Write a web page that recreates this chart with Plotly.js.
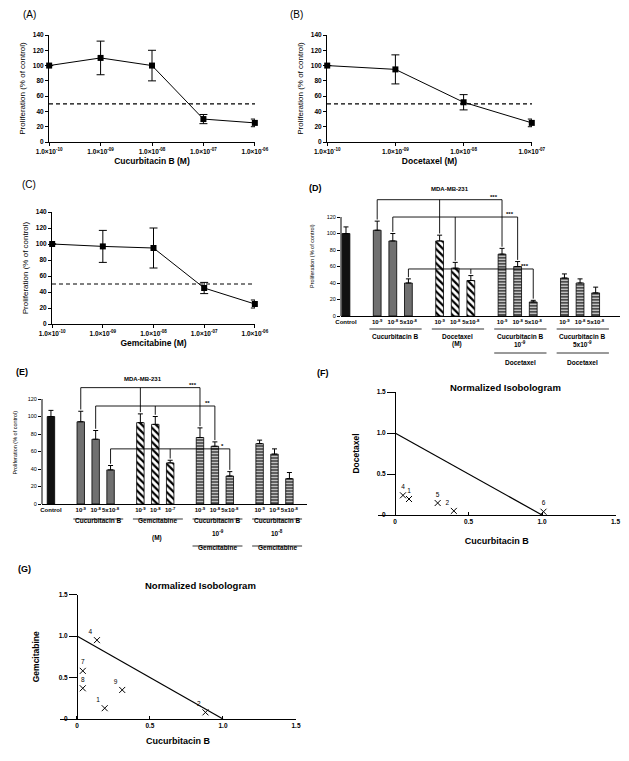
<!DOCTYPE html>
<html lang="en">
<head>
<meta charset="UTF-8">
<title>Cucurbitacin B combinations</title>
<script src="https://cdn.plot.ly/plotly-3.0.1.min.js"></script>
<style>
  body { margin: 0; background: white; }
  #fig { width: 629px; height: 761px; }
</style>
</head>
<body>
<div id="fig"></div>
<script>
// ---- (A)-(C) dose response ----
var doseA = [1e-10, 1e-9, 1e-8, 1e-7, 1e-6];
var profA = [100, 110, 100, 30, 25];
var errA  = [0, 22, 20, 6, 5];

var doseB = [1e-10, 1e-9, 1e-8, 1e-7];
var profB = [100, 95, 52, 25];
var errB  = [0, 19, 10, 5];

var doseC = [1e-10, 1e-9, 1e-8, 1e-7, 1e-6];
var profC = [100, 97, 95, 45, 25];
var errC  = [0, 20, 25, 7, 5];

var doseTickText = ['1.0×10<sup>-10</sup>', '1.0×10<sup>-09</sup>', '1.0×10<sup>-08</sup>',
                    '1.0×10<sup>-07</sup>', '1.0×10<sup>-06</sup>'];

// ---- (D) cucurbitacin B + docetaxel bars ----
var dTickText = ['Control',
  '10<sup>-9</sup>', '10<sup>-8</sup>', '5x10<sup>-8</sup>',
  '10<sup>-9</sup>', '10<sup>-8</sup>', '5x10<sup>-8</sup>',
  '10<sup>-9</sup>', '10<sup>-8</sup>', '5x10<sup>-8</sup>',
  '10<sup>-9</sup>', '10<sup>-8</sup>', '5x10<sup>-8</sup>'];
var dValues = [100, 104, 91, 40, 91, 58, 43, 75, 60, 17, 46, 40, 28];
var dErrors = [8, 11, 9, 5, 7, 7, 6, 7, 6, 2, 5, 5, 7];
var dGroups = ['Cucurbitacin B', 'Docetaxel', 'Cucurbitacin B', 'Cucurbitacin B'];
var dFixedDose = ['10<sup>-9</sup>', '5x10<sup>-9</sup>'];
var dFixedDrug = 'Docetaxel';
var dSigBars  = [[1, 4, 7], [2, 5, 8], [3, 6, 9]];
var dSigLevel = [141, 120, 57];
var dSigStars = ['***', '***', '***'];

// ---- (E) cucurbitacin B + gemcitabine bars ----
var eTickText = ['Control',
  '10<sup>-9</sup>', '10<sup>-8</sup>', '5x10<sup>-8</sup>',
  '10<sup>-9</sup>', '10<sup>-8</sup>', '10<sup>-7</sup>',
  '10<sup>-9</sup>', '10<sup>-8</sup>', '5x10<sup>-8</sup>',
  '10<sup>-9</sup>', '10<sup>-8</sup>', '5x10<sup>-8</sup>'];
var eValues = [100, 94, 74, 39, 93, 91, 47, 76, 66, 32, 69, 57, 29];
var eErrors = [7, 12, 10, 5, 10, 9, 3, 11, 5, 5, 4, 6, 7];
var eGroups = ['Cucurbitacin B', 'Gemcitabine', 'Cucurbitacin B', 'Cucurbitacin B'];
var eFixedDose = ['10<sup>-9</sup>', '10<sup>-8</sup>'];
var eFixedDrug = 'Gemcitabine';
var eSigBars  = [[1, 4, 7], [2, 5, 8], [3, 6, 9]];
var eSigLevel = [133, 112, 63];
var eSigStars = ['***', '**', '*'];

// ---- (F), (G) isobolograms ----
var isoX = [0, 1];
var isoY = [1, 0];
var fLabels = ['1', '2', '4', '5', '6'];
var fCuB    = [0.095, 0.40, 0.054, 0.29, 1.01];
var fDoc    = [0.195, 0.05, 0.24, 0.146, 0.04];
var gLabels = ['1', '2', '4', '7', '8', '9'];
var gCuB    = [0.19, 0.88, 0.137, 0.04, 0.04, 0.31];
var gGem    = [0.13, 0.08, 0.95, 0.58, 0.37, 0.35];

// ------------------------------------------------------------
var W = 629, H = 761;
function px(x) { return x / W; }
function py(y) { return 1 - y / H; }

var FONT = 'Liberation Sans, Arial, sans-serif';
function bold(s) { return {family: FONT, size: s, color: 'black', weight: 'bold'}; }
function plain(s) { return {family: FONT, size: s, color: 'black'}; }

// bar position: control, then groups of three separated by one gap
function barPos(i) { return i === 0 ? 0 : i + 1 + Math.floor((i - 1) / 3); }
function kindOf(i) { return i === 0 ? 'ctrl' : i <= 3 ? 'single' : i <= 6 ? 'drug' : 'combo'; }
var barStyle = {
  ctrl:   {color: '#111111', pattern: {shape: ''}},
  single: {color: '#707070', pattern: {shape: ''}},
  drug:   {color: 'white', pattern: {shape: '\\', size: 5, solidity: 0.45, fgcolor: 'black', bgcolor: 'white', fillmode: 'replace'}},
  combo:  {color: 'white', pattern: {shape: '-', size: 3, solidity: 0.5, fgcolor: 'black', bgcolor: 'white', fillmode: 'replace'}}
};

function doseTrace(x, y, err, xa, ya) {
  return {
    type: 'scatter', mode: 'lines+markers', x: x, y: y, xaxis: xa, yaxis: ya,
    line: {color: 'black', width: 1},
    marker: {symbol: 'square', size: 6, color: 'black'},
    error_y: {type: 'data', array: err, visible: true, color: 'black', thickness: 1, width: 4},
    cliponaxis: false, showlegend: false, hoverinfo: 'skip'
  };
}

// one bar trace per fill style
function barTraces(vals, errs, xa, ya) {
  return Object.keys(barStyle).map(function (kind) {
    var idx = vals.map(function (v, i) { return i; })
                  .filter(function (i) { return kindOf(i) === kind; });
    var st = barStyle[kind];
    return {
      type: 'bar', xaxis: xa, yaxis: ya, width: 0.5,
      x: idx.map(barPos), y: idx.map(function (i) { return vals[i]; }),
      marker: {color: st.color, line: {color: 'black', width: 0.8}, pattern: st.pattern},
      error_y: {type: 'data', symmetric: false,
                array: idx.map(function (i) { return errs[i]; }),
                arrayminus: idx.map(function () { return 0; }),
                color: 'black', thickness: 1, width: 2.5},
      showlegend: false, hoverinfo: 'skip'
    };
  });
}

function isoTraces(cx, cy, labels, leftLabels, xa, ya) {
  return [
    {type: 'scatter', mode: 'lines', x: isoX, y: isoY, xaxis: xa, yaxis: ya,
     line: {color: 'black', width: 1.2}, showlegend: false, hoverinfo: 'skip'},
    {type: 'scatter', mode: 'markers+text', x: cx, y: cy, xaxis: xa, yaxis: ya,
     text: labels,
     textposition: labels.map(function (l) { return leftLabels.indexOf(l) >= 0 ? 'top left' : 'top center'; }),
     textfont: plain(6.5),
     marker: {symbol: 'x-thin', size: 6, color: 'black', line: {color: 'black', width: 1}},
     cliponaxis: false, showlegend: false, hoverinfo: 'skip'}
  ];
}

var data = [
  doseTrace(doseA, profA, errA, 'x', 'y'),
  doseTrace(doseB, profB, errB, 'x2', 'y2'),
  doseTrace(doseC, profC, errC, 'x3', 'y3')
].concat(barTraces(dValues, dErrors, 'x4', 'y4'))
 .concat(barTraces(eValues, eErrors, 'x5', 'y5'))
 .concat(isoTraces(fCuB, fDoc, fLabels, ['2'], 'x6', 'y6'))
 .concat(isoTraces(gCuB, gGem, gLabels, ['1', '2', '4', '9'], 'x7', 'y7'));

function doseX(dom, anchor, doses, title) {
  return {
    domain: dom, anchor: anchor, type: 'log',
    // tiny padding so the end markers are not culled
    range: [Math.log10(doses[0]) - 0.003, Math.log10(doses[doses.length - 1]) + 0.003],
    tickvals: doses, ticktext: doseTickText.slice(0, doses.length),
    ticks: 'outside', ticklen: 3, tickwidth: 1, tickcolor: 'black', tickangle: 0,
    showline: true, linecolor: 'black', linewidth: 1, showgrid: false, zeroline: false,
    tickfont: bold(6.5),
    title: {text: title, font: bold(8.5), standoff: 4}
  };
}
function doseY(dom, anchor) {
  return {
    domain: dom, anchor: anchor, range: [0, 140],
    tickvals: [0, 20, 40, 60, 80, 100, 120, 140],
    ticks: 'outside', ticklen: 3, tickwidth: 1, tickcolor: 'black',
    showline: true, linecolor: 'black', linewidth: 1, showgrid: false, zeroline: false,
    tickfont: bold(6.5),
    title: {text: 'Proliferation (% of control)', font: plain(8), standoff: 6}
  };
}
function barX(dom, anchor, range, ticktext) {
  return {
    domain: dom, anchor: anchor, range: range,
    tickvals: ticktext.map(function (t, i) { return barPos(i); }), ticktext: ticktext,
    ticks: '', tickangle: 0, tickfont: bold(6),
    showline: true, linecolor: 'black', linewidth: 1, showgrid: false, zeroline: false
  };
}
function barY(dom, anchor, top, standoff) {
  return {
    domain: dom, anchor: anchor, range: [0, top],
    tickvals: [0, 20, 40, 60, 80, 100, 120],
    ticks: 'outside', ticklen: 3, tickwidth: 1, tickcolor: 'black',
    showline: false, showgrid: false, zeroline: false,
    tickfont: plain(5.5),
    title: {text: 'Proliferation (% of control)', font: plain(5.5), standoff: standoff}
  };
}
function isoXAxis(dom, anchor, standoff) {
  return {
    domain: dom, anchor: anchor, range: [-0.116, 1.5],
    tickvals: [0, 0.5, 1, 1.5], ticktext: ['0', '0.5', '1.0', '1.5'],
    ticks: 'inside', ticklen: 3, tickcolor: 'black', tickangle: 0,
    showline: true, linecolor: 'black', linewidth: 1.2, showgrid: false, zeroline: false,
    tickfont: bold(6.5),
    title: {text: 'Cucurbitacin B', font: bold(9), standoff: standoff}
  };
}
function isoYAxis(dom, position, title, standoff) {
  return {
    domain: dom, anchor: 'free', position: position, range: [0, 1.5],
    tickvals: [0, 0.5, 1, 1.5], ticktext: ['0', '0.5', '1.0', '1.5'],
    ticks: 'outside', ticklen: 8, tickcolor: 'black',
    showline: true, linecolor: 'black', linewidth: 1.2, showgrid: false, zeroline: false,
    tickfont: bold(6.5),
    title: {text: title, font: bold(8.5), standoff: standoff}
  };
}

var shapes = [];
var annotations = [];

function note(text, x, y, font) {
  annotations.push({text: text, x: x, y: y, xref: 'paper', yref: 'paper', showarrow: false,
                    xanchor: 'center', yanchor: 'middle', font: font});
}

// dashed 50 % lines
[['x', 'y'], ['x2', 'y2'], ['x3', 'y3']].forEach(function (p) {
  shapes.push({type: 'line', xref: p[0] + ' domain', yref: p[1], x0: 0, x1: 1, y0: 50, y1: 50,
               line: {color: 'black', width: 1.2, dash: '4px,3px'}});
});

// bar panel decorations
function barDecor(xa, ya, vals, errs, groups, fixedDose, fixedDrug, sigBars, sigLevel, sigStars, rows) {
  // y axis line only up to 120
  shapes.push({type: 'line', xref: xa + ' domain', yref: ya, x0: 0, x1: 0, y0: 0, y1: 120,
               line: {color: 'black', width: 1}});
  // group underlines and names
  groups.forEach(function (g, gi) {
    var a = barPos(1 + 3 * gi) - 0.5, b = barPos(3 + 3 * gi) + 0.85;
    shapes.push({type: 'line', xref: xa, yref: 'paper', x0: a, x1: b,
                 y0: py(rows.line1), y1: py(rows.line1), line: {color: 'black', width: 0.8}});
    annotations.push({text: g, x: (a + b) / 2, y: py(rows.name), xref: xa, yref: 'paper',
                      showarrow: false, font: bold(6.5)});
    if (gi >= 2) {
      shapes.push({type: 'line', xref: xa, yref: 'paper', x0: a, x1: b,
                   y0: py(rows.line2), y1: py(rows.line2), line: {color: 'black', width: 0.8}});
      annotations.push({text: fixedDose[gi - 2], x: (a + b) / 2, y: py(rows.dose), xref: xa,
                        yref: 'paper', showarrow: false, font: bold(6.5)});
      annotations.push({text: fixedDrug, x: (a + b) / 2, y: py(rows.drug), xref: xa,
                        yref: 'paper', showarrow: false, font: bold(6.5)});
    }
  });
  annotations.push({text: '(M)', x: barPos(5) + 0.1, y: py(rows.m), xref: xa, yref: 'paper',
                    showarrow: false, font: bold(6.5)});
  // significance brackets
  sigBars.forEach(function (bars, si) {
    var L = sigLevel[si];
    var x0 = barPos(bars[0]), x1 = barPos(bars[bars.length - 1]);
    shapes.push({type: 'line', xref: xa, yref: ya, x0: x0, x1: x1, y0: L, y1: L,
                 line: {color: 'black', width: 0.9}});
    bars.forEach(function (b) {
      shapes.push({type: 'line', xref: xa, yref: ya, x0: barPos(b), x1: barPos(b),
                   y0: L, y1: Math.min(L, vals[b] + errs[b] + 2),
                   line: {color: 'black', width: 0.9}});
    });
    annotations.push({text: sigStars[si], x: x1 - 0.5, y: L, xref: xa, yref: ya,
                      yanchor: 'middle', yshift: 3, showarrow: false, font: bold(6)});
  });
}

barDecor('x4', 'y4', dValues, dErrors, dGroups, dFixedDose, dFixedDrug,
         dSigBars, dSigLevel, dSigStars,
         {line1: 329, name: 336, dose: 344, line2: 353, drug: 362, m: 344});
barDecor('x5', 'y5', eValues, eErrors, eGroups, eFixedDose, eFixedDrug,
         eSigBars, eSigLevel, eSigStars,
         {line1: 519, name: 526, dose: 539, line2: 546, drug: 553, m: 544});

// panel letters and titles
note('(A)', px(29), py(15), plain(10));
note('(B)', px(296), py(15), plain(10));
note('(C)', px(29), py(185), plain(10));
note('(D)', px(316), py(188), bold(9));
note('(E)', px(22), py(372), bold(9));
note('(F)', px(323), py(373), bold(9));
note('(G)', px(24), py(569), bold(9));
note('MDA-MB-231', px(450), py(189), bold(6));
note('MDA-MB-231', px(143), py(379), bold(6));
note('Normalized Isobologram', px(505), py(387), bold(9.5));
note('Normalized Isobologram', px(200), py(585), bold(9.5));

var layout = {
  width: W, height: H,
  margin: {l: 0, r: 0, t: 0, b: 0},
  paper_bgcolor: 'white', plot_bgcolor: 'rgba(0,0,0,0)',
  font: {family: FONT, color: 'black'},
  showlegend: false,
  xaxis:  doseX([px(49), px(255)], 'y', doseA, 'Cucurbitacin B (M)'),
  yaxis:  doseY([py(142), py(35)], 'x'),
  xaxis2: doseX([px(327), px(532)], 'y2', doseB, 'Docetaxel (M)'),
  yaxis2: doseY([py(142), py(35)], 'x2'),
  xaxis3: doseX([px(52), px(255)], 'y3', doseC, 'Gemcitabine (M)'),
  yaxis3: doseY([py(324), py(212)], 'x3'),
  xaxis4: barX([px(341), px(620)], 'y4', [-0.32, 17.56], dTickText),
  yaxis4: barY([py(316), py(196.4)], 'x4', 145, 11),
  xaxis5: barX([px(42), px(307)], 'y5', [-0.6, 17.18], eTickText),
  yaxis5: barY([py(504), py(381.5)], 'x5', 140, 9),
  xaxis6: isoXAxis([px(378), px(615.5)], 'y6', 13),
  yaxis6: isoYAxis([py(515), py(392)], px(395), 'Docetaxel', 14),
  xaxis7: isoXAxis([px(60), px(296)], 'y7', 9),
  yaxis7: isoYAxis([py(719), py(594.5)], px(77), 'Gemcitabine', 16),
  shapes: shapes,
  annotations: annotations
};

Plotly.newPlot('fig', data, layout, {displayModeBar: false, staticPlot: true});
</script>
</body>
</html>
